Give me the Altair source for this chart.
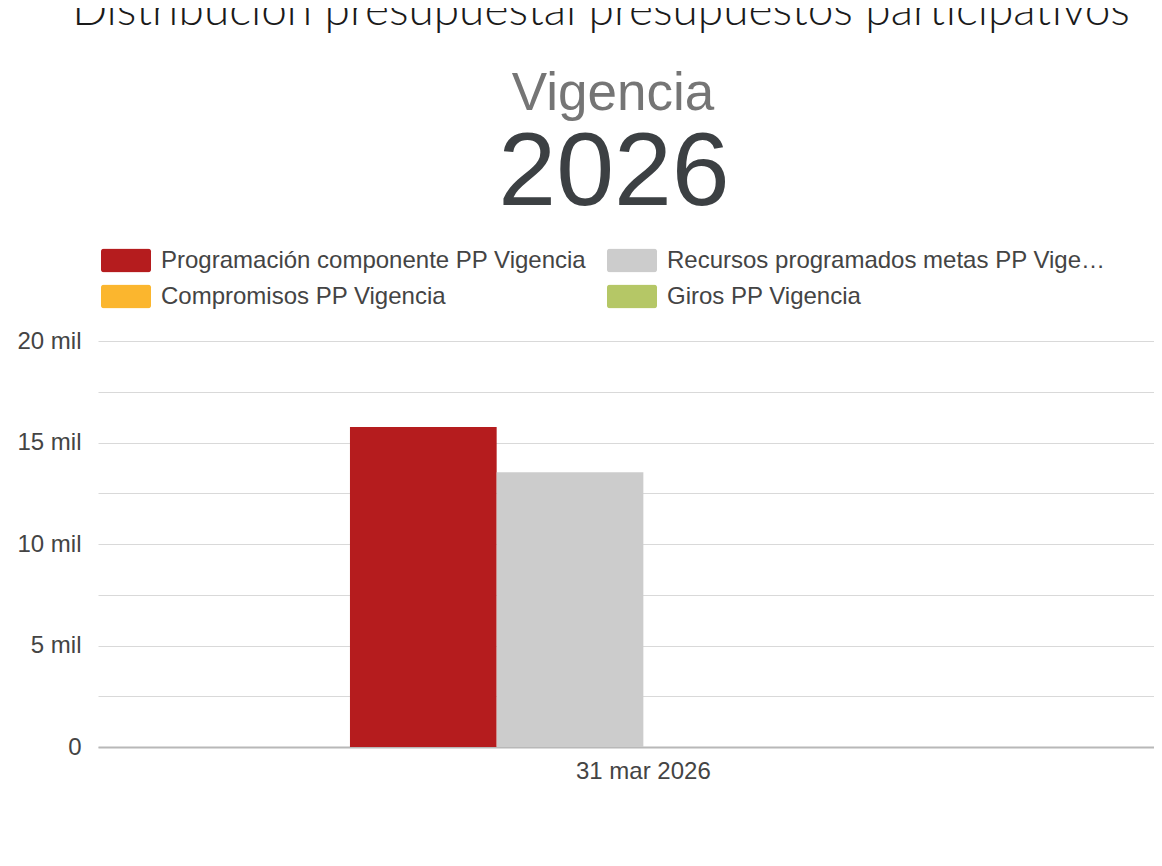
import altair as alt
import pandas as pd

# ---- data ----
fecha = ["31 mar 2026"]
series = [
    "Programación componente PP Vigencia",
    "Recursos programados metas PP Vigencia",
    "Compromisos PP Vigencia",
    "Giros PP Vigencia",
]
valores = [15760, 13530, 0, 0]
colores = ["#b51c1e", "#cccccc", "#fbb62e", "#b5c766"]
# legend is filled column by column: list it so it reads row by row
orden_leyenda = [series[0], series[2], series[1], series[3]]
colores_leyenda = [colores[0], colores[2], colores[1], colores[3]]
y_ticks = [0, 2500, 5000, 7500, 10000, 12500, 15000, 17500, 20000]

titulo = "Distribución presupuestal presupuestos participativos"
subtitulo = "Vigencia"
anio = "2026"

df = pd.DataFrame({
    "Fecha": fecha * len(series),
    "Serie": series,
    "Valor": valores,
})

FONT = "Liberation Sans"
W, H = 1056, 406

bars = alt.Chart(df).mark_bar().encode(
    x=alt.X("Fecha:N",
            scale=alt.Scale(domain=fecha, paddingInner=0, paddingOuter=0.3998, align=0.537),
            axis=alt.Axis(title=None, labelAngle=0, ticks=False, grid=False, labelFontSize=24,
                          labelFont=FONT, labelColor="#444444", labelPadding=12,
                          domain=True, domainColor="#b8b8b8", domainWidth=2)),
    xOffset=alt.XOffset("Serie:N", sort=series,
                        scale=alt.Scale(domain=series, paddingInner=0, paddingOuter=0)),
    y=alt.Y("Valor:Q",
            scale=alt.Scale(domain=[0, 20000], nice=False, zero=True),
            axis=alt.Axis(title=None, values=y_ticks, ticks=False, domain=False,
                          grid=True, gridColor="#d9d9d9", gridWidth=1,
                          labelFontSize=24, labelFont=FONT, labelColor="#444444",
                          labelPadding=17,
                          labelExpr="datum.value % 5000 == 0 ? (datum.value == 0 ? '0' : format(datum.value/1000, 'd') + ' mil') : ''")),
    color=alt.Color("Serie:N",
                    scale=alt.Scale(domain=orden_leyenda, range=colores_leyenda),
                    legend=alt.Legend(
                        title=None, orient="none", legendX=3, legendY=-92.5,
                        direction="vertical", columns=2, columnPadding=20, rowPadding=12,
                        symbolType="M-0.9,-0.468H0.9A0.1,0.1 0 0 1 1,-0.368V0.368A0.1,0.1 0 0 1 0.9,0.468H-0.9A0.1,0.1 0 0 1 -1,0.368V-0.368A0.1,0.1 0 0 1 -0.9,-0.468Z",
                        symbolSize=2500, symbolStrokeWidth=0, symbolOpacity=1,
                        clipHeight=24,
                        labelFontSize=24, labelFont=FONT, labelColor="#444444",
                        labelOffset=10, labelLimit=448, padding=0)),
)

tit = alt.Chart(pd.DataFrame({"t": [titulo]})).mark_text(
    font="Lato", fontWeight=300, fontSize=46, color="#1a1a1a",
    align="center", baseline="alphabetic",
).encode(text="t:N", x=alt.value(503), y=alt.value(-315.7))

sub = alt.Chart(pd.DataFrame({"t": [subtitulo]})).mark_text(
    font=FONT, fontSize=53, color="#757575", align="center", baseline="alphabetic",
).encode(text="t:N", x=alt.value(515), y=alt.value(-231.4))

yr = alt.Chart(pd.DataFrame({"t": [anio]})).mark_text(
    font=FONT, fontSize=104, color="#3c4043", align="center", baseline="alphabetic",
).encode(text="t:N", x=alt.value(516), y=alt.value(-136.5))

chart = alt.layer(bars, tit, sub, yr).properties(
    width=W, height=H,
    background="white",
    autosize=alt.AutoSizeParams(type="none"),
    padding={"left": 90, "top": 333, "right": 0, "bottom": 100},
).configure_view(strokeWidth=0, stroke=None)

chart.save("out.html", embed_options={"renderer": "svg", "actions": False})
